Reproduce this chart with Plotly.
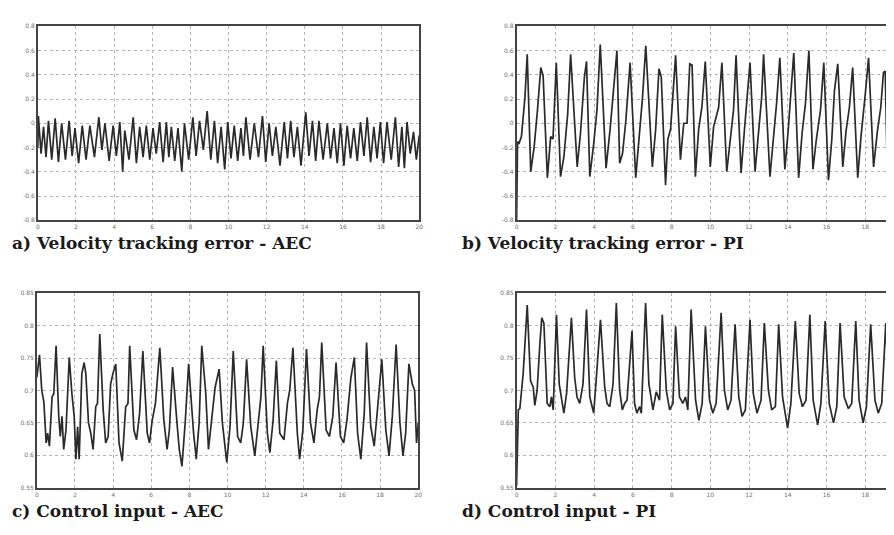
import plotly.graph_objects as go

# ---------------- data ----------------
# a) Velocity tracking error - AEC
t_a = [0.0, 0.03, 0.17, 0.30, 0.43, 0.56, 0.73, 0.91, 1.08, 1.25, 1.45, 1.64, 1.80, 1.95, 2.14, 2.33,
       2.53, 2.73, 2.97, 3.20, 3.36, 3.52, 3.74, 3.95, 4.12, 4.30, 4.45, 4.56, 4.78, 5.00, 5.17, 5.34,
       5.52, 5.69, 5.87, 6.04, 6.21, 6.39, 6.57, 6.74, 6.87, 7.00, 7.18, 7.35, 7.55, 7.69, 7.91, 8.13,
       8.30, 8.48, 8.68, 8.88, 9.07, 9.26, 9.43, 9.61, 9.80, 9.96, 10.13, 10.30, 10.48, 10.65, 10.78,
       10.91, 11.13, 11.35, 11.57, 11.78, 11.95, 12.13, 12.30, 12.48, 12.70, 12.92, 13.09, 13.26, 13.43,
       13.61, 13.80, 14.05, 14.22, 14.40, 14.57, 14.74, 14.96, 15.18, 15.35, 15.53, 15.70, 15.87, 16.05,
       16.22, 16.40, 16.57, 16.75, 16.92, 17.10, 17.27, 17.45, 17.62, 17.79, 17.96, 18.13, 18.31, 18.53,
       18.75, 18.92, 19.09, 19.22, 19.36, 19.53, 19.70, 19.85, 20.0]
v_a = [-0.20, 0.06, -0.25, -0.03, -0.28, 0.02, -0.30, 0.04, -0.32, 0.00, -0.30, 0.02, -0.27, -0.04, -0.33, -0.02,
       -0.30, -0.02, -0.28, 0.05, -0.22, 0.00, -0.31, -0.02, -0.27, 0.01, -0.40, -0.06, -0.30, 0.05, -0.33, -0.03,
       -0.28, -0.02, -0.30, -0.04, -0.25, 0.01, -0.32, 0.01, -0.28, -0.03, -0.31, -0.04, -0.40, 0.00, -0.30, 0.05,
       -0.27, 0.02, -0.22, 0.10, -0.30, 0.02, -0.33, -0.03, -0.38, 0.01, -0.29, -0.02, -0.31, -0.04, -0.27,
       0.05, -0.30, 0.00, -0.28, 0.06, -0.32, 0.00, -0.27, -0.03, -0.35, 0.01, -0.29, 0.02, -0.28,
       -0.03, -0.35, 0.09, -0.27, 0.02, -0.31, 0.02, -0.30, 0.00, -0.29, -0.04, -0.33, 0.00, -0.35,
       -0.02, -0.29, -0.04, -0.31, 0.01, -0.27, 0.05, -0.32, -0.03, -0.29, 0.01, -0.33, 0.01, -0.30,
       0.05, -0.36, -0.03, -0.37, 0.01, -0.25, -0.07, -0.30, -0.10]

# b) Velocity tracking error - PI
t_b = [0.0, 0.05, 0.12, 0.25, 0.43, 0.55, 0.73, 0.91, 1.08, 1.25, 1.37, 1.59, 1.76, 1.88, 2.05, 2.27,
       2.44, 2.64, 2.79, 3.13, 3.30, 3.50, 3.61, 3.78, 3.98, 4.15, 4.32, 4.62, 4.84, 5.01, 5.18, 5.32,
       5.47, 5.64, 5.86, 6.15, 6.32, 6.50, 6.67, 7.01, 7.18, 7.35, 7.47, 7.69, 7.81, 7.95, 8.21, 8.46,
       8.63, 8.80, 8.94, 9.06, 9.23, 9.40, 9.57, 9.74, 10.00, 10.17, 10.43, 10.60, 10.85, 11.03, 11.20,
       11.33, 11.59, 11.76, 11.97, 12.05, 12.31, 12.48, 12.65, 12.75, 13.08, 13.25, 13.42, 13.59, 13.85,
       14.02, 14.19, 14.31, 14.56, 14.74, 14.91, 15.09, 15.30, 15.47, 15.69, 15.86, 16.10, 16.27, 16.41,
       16.58, 16.84, 17.01, 17.18, 17.35, 17.61, 17.78, 18.00, 18.17, 18.43, 18.63, 18.80, 18.94, 19.03,
       19.15, 19.32, 19.49, 19.66, 19.80, 20.0]
v_b = [-0.82, -0.15, -0.17, -0.11, 0.21, 0.57, -0.40, -0.19, 0.11, 0.46, 0.39, -0.45, -0.11, -0.13, 0.50, -0.44,
       -0.28, 0.08, 0.57, -0.36, -0.08, 0.38, 0.51, -0.44, -0.17, 0.11, 0.65, -0.37, -0.03, 0.32, 0.60, -0.33,
       -0.25, 0.02, 0.50, -0.45, -0.13, 0.21, 0.64, -0.36, -0.05, 0.45, 0.38, -0.51, -0.13, -0.05, 0.56, -0.30,
       0.00, 0.00, 0.49, 0.48, -0.44, -0.05, 0.14, 0.51, -0.36, -0.03, 0.13, 0.50, -0.40, -0.11, 0.11,
       0.56, -0.41, -0.06, 0.38, 0.50, -0.40, -0.11, 0.21, 0.57, -0.44, -0.14, 0.16, 0.54, -0.38,
       -0.06, 0.30, 0.58, -0.45, -0.08, 0.16, 0.60, -0.38, -0.14, 0.11, 0.50, -0.47, -0.14, 0.27,
       0.49, -0.36, -0.06, 0.13, 0.46, -0.45, -0.11, 0.24, 0.54, -0.36, -0.06, 0.13, 0.42, 0.43,
       -0.49, -0.17, 0.13, 0.24, 0.45, 0.20]

# c) Control input - AEC
t_c = [0.0, 0.14, 0.26, 0.37, 0.49, 0.57, 0.66, 0.80, 0.89, 1.01, 1.15, 1.23, 1.32, 1.41, 1.53, 1.70,
       1.84, 1.96, 2.05, 2.14, 2.22, 2.36, 2.48, 2.57, 2.71, 2.83, 2.95, 3.09, 3.18, 3.30, 3.48, 3.61,
       3.74, 3.87, 3.99, 4.14, 4.31, 4.48, 4.66, 4.78, 4.87, 5.09, 5.23, 5.39, 5.56, 5.79, 5.91, 6.05,
       6.22, 6.45, 6.66, 6.83, 6.95, 7.12, 7.35, 7.47, 7.61, 7.78, 7.96, 8.10, 8.22, 8.36, 8.51, 8.65,
       8.86, 9.00, 9.17, 9.35, 9.56, 9.73, 9.96, 10.13, 10.30, 10.53, 10.69, 10.83, 11.00, 11.22, 11.43,
       11.61, 11.75, 11.87, 12.09, 12.22, 12.39, 12.56, 12.74, 12.96, 13.14, 13.26, 13.43, 13.66, 13.78,
       13.95, 14.14, 14.35, 14.53, 14.70, 14.82, 14.94, 15.17, 15.34, 15.52, 15.69, 15.92, 16.09, 16.26,
       16.47, 16.65, 16.82, 16.99, 17.17, 17.29, 17.51, 17.69, 17.86, 18.09, 18.30, 18.47, 18.64, 18.84,
       19.04, 19.20, 19.34, 19.51, 19.69, 19.81, 19.91, 20.0]
v_c = [0.720, 0.755, 0.700, 0.682, 0.619, 0.634, 0.614, 0.690, 0.695, 0.769, 0.660, 0.629, 0.660, 0.609, 0.639, 0.751,
       0.695, 0.660, 0.594, 0.644, 0.594, 0.726, 0.743, 0.726, 0.650, 0.634, 0.609, 0.675, 0.680, 0.787, 0.670, 0.619,
       0.629, 0.710, 0.726, 0.741, 0.619, 0.591, 0.675, 0.680, 0.769, 0.639, 0.624, 0.665, 0.761, 0.634, 0.619, 0.654,
       0.680, 0.766, 0.654, 0.609, 0.639, 0.736, 0.650, 0.609, 0.583, 0.650, 0.741, 0.680, 0.634, 0.594, 0.650, 0.769,
       0.695, 0.609, 0.654, 0.705, 0.733, 0.650, 0.589, 0.644, 0.761, 0.629, 0.619, 0.650, 0.748, 0.644, 0.599,
       0.650, 0.690, 0.769, 0.634, 0.604, 0.654, 0.746, 0.634, 0.624, 0.680, 0.700, 0.766, 0.634, 0.594,
       0.639, 0.764, 0.650, 0.619, 0.670, 0.690, 0.774, 0.639, 0.629, 0.660, 0.743, 0.629, 0.619, 0.654,
       0.720, 0.751, 0.634, 0.594, 0.665, 0.774, 0.644, 0.614, 0.670, 0.748, 0.639, 0.599, 0.660, 0.771,
       0.650, 0.599, 0.634, 0.741, 0.710, 0.700, 0.619, 0.650]

# d) Control input - PI
t_d = [0.0, 0.09, 0.17, 0.34, 0.43, 0.55, 0.72, 0.86, 0.94, 1.06, 1.20, 1.30, 1.41, 1.58, 1.72, 1.80,
       1.89, 2.06, 2.20, 2.32, 2.44, 2.58, 2.83, 3.00, 3.12, 3.26, 3.43, 3.61, 3.78, 3.86, 3.98, 4.12,
       4.33, 4.55, 4.67, 4.81, 4.98, 5.15, 5.32, 5.46, 5.58, 5.70, 5.96, 6.09, 6.21, 6.35, 6.44, 6.66,
       6.83, 7.04, 7.21, 7.38, 7.52, 7.73, 7.90, 8.07, 8.21, 8.41, 8.58, 8.72, 8.84, 9.01, 9.24, 9.41,
       9.58, 9.75, 9.96, 10.13, 10.30, 10.56, 10.73, 10.90, 11.07, 11.28, 11.47, 11.64, 11.81, 12.05,
       12.22, 12.41, 12.62, 12.79, 13.00, 13.17, 13.36, 13.53, 13.73, 13.99, 14.16, 14.39, 14.59, 14.76,
       14.94, 15.14, 15.31, 15.54, 15.71, 15.93, 16.14, 16.36, 16.53, 16.70, 16.91, 17.13, 17.30, 17.51,
       17.68, 17.89, 18.06, 18.28, 18.50, 18.67, 18.85, 19.06, 19.23, 19.45, 19.66, 19.79, 20.0]
v_d = [0.553, 0.670, 0.672, 0.726, 0.771, 0.832, 0.715, 0.705, 0.677, 0.700, 0.771, 0.812, 0.804, 0.680, 0.675, 0.690,
       0.670, 0.817, 0.710, 0.685, 0.665, 0.695, 0.812, 0.720, 0.690, 0.680, 0.710, 0.825, 0.690, 0.680, 0.665, 0.720,
       0.809, 0.705, 0.680, 0.675, 0.710, 0.835, 0.700, 0.670, 0.680, 0.685, 0.792, 0.680, 0.665, 0.675, 0.665, 0.835,
       0.710, 0.670, 0.698, 0.685, 0.817, 0.700, 0.670, 0.680, 0.799, 0.690, 0.680, 0.690, 0.670, 0.825, 0.685, 0.654,
       0.680, 0.799, 0.685, 0.665, 0.680, 0.820, 0.700, 0.670, 0.685, 0.802, 0.690, 0.660, 0.670, 0.809,
       0.695, 0.665, 0.685, 0.804, 0.700, 0.670, 0.675, 0.802, 0.690, 0.642, 0.680, 0.807, 0.695, 0.675,
       0.685, 0.817, 0.685, 0.647, 0.680, 0.807, 0.680, 0.650, 0.675, 0.804, 0.690, 0.672, 0.680, 0.807,
       0.685, 0.650, 0.675, 0.802, 0.685, 0.665, 0.680, 0.804, 0.680, 0.644, 0.690, 0.770, 0.810]

x_ticks = [0, 2, 4, 6, 8, 10, 12, 14, 16, 18, 20]
x_ticktext = ["0", "2", "4", "6", "8", "10", "12", "14", "16", "18", "20"]
err_ticks = [-0.8, -0.6, -0.4, -0.2, 0, 0.2, 0.4, 0.6, 0.8]
err_ticktext = ["-0.8", "-0.6", "-0.4", "-0.2", "0", "0.2", "0.4", "0.6", "0.8"]
u_ticks = [0.55, 0.6, 0.65, 0.7, 0.75, 0.8, 0.85]
u_ticktext = ["0.55", "0.6", "0.65", "0.7", "0.75", "0.8", "0.85"]

captions = ["a) Velocity tracking error - AEC", "b) Velocity tracking error - PI",
            "c) Control input - AEC", "d) Control input - PI"]

# ---------------- figure ----------------
W, H = 894, 535
fig = go.Figure()

def px(x):
    return x / W

def py(y):
    return 1 - y / H

panels = [
    (t_a, v_a, "", (28, 412), (14.5, 211), [-0.8, 0.8], err_ticks, err_ticktext, 20, True),
    (t_b, v_b, "2", (510, 894), (14.5, 211), [-0.8, 0.8], err_ticks, err_ticktext, 19.69, False),
    (t_c, v_c, "3", (27, 411), (285, 482), [0.55, 0.85], u_ticks, u_ticktext, 20, True),
    (t_d, v_d, "4", (510, 894), (285, 482), [0.55, 0.85], u_ticks, u_ticktext, 19.69, False),
]

line_col = "#2a2a2a"
frame_col = "#444444"
grid_col = "#b4b4b4"
tick_font = dict(family="DejaVu Sans", size=6, color="#707070")

for (t, v, ax, xd, yd, yr, yt, ytt, xmax, mir) in panels:
    fig.add_trace(go.Scatter(x=t, y=v, mode="lines", xaxis="x" + ax, yaxis="y" + ax,
                             line=dict(color=line_col, width=1.7), showlegend=False,
                             hoverinfo="skip"))
    fig.layout["xaxis" + ax] = dict(
        domain=[px(xd[0]), px(xd[1])], anchor="y" + ax, range=[0, xmax],
        tickvals=x_ticks, ticktext=x_ticktext, tickfont=tick_font, ticks="",
        showgrid=True, gridcolor=grid_col, griddash="dot", gridwidth=1,
        showline=True, linecolor=frame_col, linewidth=1.5, mirror=True,
        zeroline=False, fixedrange=True)
    fig.layout["yaxis" + ax] = dict(
        domain=[py(yd[1]), py(yd[0])], anchor="x" + ax, range=yr,
        tickvals=yt, ticktext=ytt, tickfont=tick_font, ticks="",
        showgrid=True, gridcolor=grid_col, griddash="dot", gridwidth=1,
        showline=True, linecolor=frame_col, linewidth=1.5, mirror=mir,
        zeroline=False, fixedrange=True)

cap_pos = [(0, 234), (453, 234), (0, 506), (453, 506)]
for text, (cx, cy) in zip(captions, cap_pos):
    fig.add_annotation(text="<b>" + text + "</b>", xref="paper", yref="paper", x=px(cx), y=py(cy),
                       xanchor="left", yanchor="middle", showarrow=False,
                       font=dict(family="DejaVu Serif", size=17, color="#1a1a1a"))

fig.update_layout(width=W, height=H, margin=dict(l=0, r=0, t=0, b=0),
                  paper_bgcolor="white", plot_bgcolor="white")

fig.write_html("out.html")
